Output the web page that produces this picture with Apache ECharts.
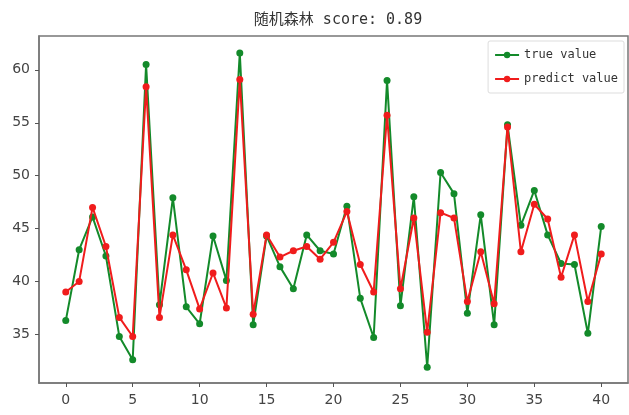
<!DOCTYPE html>
<html>
<head>
<meta charset="utf-8">
<script src="https://cdn.jsdelivr.net/npm/echarts@6/dist/echarts.min.js"></script>
<style>
  html, body { margin: 0; padding: 0; background: #fff; }
  #main { width: 629px; height: 415px; }
</style>
</head>
<body>
<div id="main"></div>
<script>
// sample index 0..40
var xTicks = [0, 5, 10, 15, 20, 25, 30, 35, 40];
var yTicks = [35, 40, 45, 50, 55, 60];

var trueValue = [36.3, 43.0, 46.1, 42.4, 34.8, 32.6, 60.5, 37.8, 47.9, 37.6,
                 36.0, 44.3, 40.1, 61.6, 35.9, 44.3, 41.4, 39.3, 44.4, 42.9,
                 42.6, 47.1, 38.4, 34.7, 59.0, 37.7, 48.0, 31.9, 50.3, 48.3,
                 37.0, 46.3, 35.9, 54.8, 45.3, 48.6, 44.4, 41.7, 41.6, 35.1,
                 45.2];
var predictValue = [39.0, 40.0, 47.0, 43.3, 36.6, 34.8, 58.4, 36.6, 44.4, 41.1,
                    37.4, 40.8, 37.5, 59.1, 36.9, 44.4, 42.3, 42.9, 43.3, 42.1,
                    43.7, 46.6, 41.6, 39.0, 55.7, 39.3, 46.0, 35.2, 46.5, 46.0,
                    38.1, 42.8, 37.9, 54.6, 42.8, 47.3, 45.9, 40.4, 44.4, 38.1,
                    42.6];

function toPairs(arr) {
  return arr.map(function (v, i) { return [i, v]; });
}

var dom = document.getElementById('main');
var myChart = echarts.init(dom, null, { renderer: 'canvas' });

var labelFont = { fontSize: 14, color: '#444', fontFamily: 'DejaVu Sans' };

var option = {
  backgroundColor: '#fff',
  animation: false,
  title: {
    text: '随机森林 score: 0.89',
    left: 333, textAlign: 'center', top: 8,
    textStyle: { fontSize: 15, fontWeight: 'normal', color: '#333',
                 fontFamily: '"DejaVu Sans Mono", "Noto Sans CJK SC"' }
  },
  legend: {
    orient: 'vertical',
    right: 5, top: 41,
    padding: [8, 6, 8, 6],
    itemGap: 12,
    itemWidth: 24, itemHeight: 8,
    borderColor: '#ddd', borderWidth: 1, borderRadius: 2,
    textStyle: { fontSize: 12, color: '#333', fontFamily: 'DejaVu Sans Mono' },
    data: ['true value', 'predict value']
  },
  grid: {
    left: 39, right: 1, top: 36, bottom: 32,
    show: true, borderColor: '#777', borderWidth: 1.5
  },
  xAxis: {
    type: 'value', min: -2, max: 42,
    splitLine: { show: false },
    axisLine: { show: true, onZero: false, lineStyle: { color: '#777', width: 1.5 } },
    axisTick: { show: true, length: 4, customValues: xTicks, lineStyle: { color: '#555' } },
    axisLabel: Object.assign({ margin: 10, customValues: xTicks }, labelFont)
  },
  yAxis: {
    type: 'value', min: 30.4, max: 63.2,
    splitLine: { show: false },
    axisLine: { show: true, onZero: false, lineStyle: { color: '#777', width: 1.5 } },
    axisTick: { show: true, length: 4, customValues: yTicks, lineStyle: { color: '#555' } },
    axisLabel: Object.assign({ margin: 9, customValues: yTicks }, labelFont)
  },
  series: [
    {
      name: 'true value', type: 'line',
      data: toPairs(trueValue),
      symbol: 'circle', symbolSize: 7,
      itemStyle: { color: '#138a2a' },
      lineStyle: { color: '#138a2a', width: 2 },
      z: 2
    },
    {
      name: 'predict value', type: 'line',
      data: toPairs(predictValue),
      symbol: 'circle', symbolSize: 7,
      itemStyle: { color: '#f01c1c' },
      lineStyle: { color: '#f01c1c', width: 2 },
      z: 3
    }
  ]
};

myChart.setOption(option);
window.addEventListener('resize', myChart.resize);
</script>
</body>
</html>
